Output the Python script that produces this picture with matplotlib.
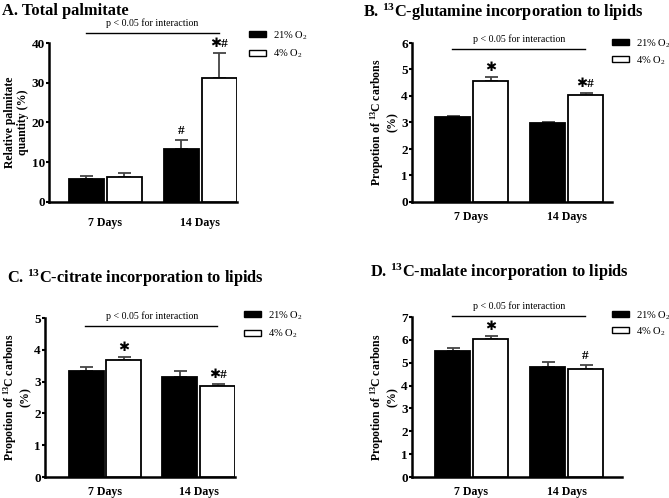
import matplotlib
matplotlib.use('Agg')
from matplotlib import pyplot as plt
from matplotlib.patches import Patch

plt.rcParams['font.family'] = ['Liberation Serif', 'DejaVu Sans']
plt.rcParams['mathtext.fontset'] = 'custom'
plt.rcParams['mathtext.rm'] = 'Liberation Serif'
plt.rcParams['mathtext.bf'] = 'Liberation Serif:bold'

# data
days = ['7 Days', '14 Days']

a_21 = [5.8, 13.3]
a_21_err = [0.7, 2.2]
a_4 = [6.3, 31.3]
a_4_err = [1.1, 6.1]
a_marks_21 = ['', '#']
a_marks_4 = ['', '\u2731#']

b_21 = [3.2, 2.98]
b_21_err = [0.03, 0.02]
b_4 = [4.55, 4.02]
b_4_err = [0.17, 0.08]
b_marks_21 = ['', '']
b_marks_4 = ['\u2731', '\u2731#']

c_21 = [3.33, 3.13]
c_21_err = [0.12, 0.2]
c_4 = [3.68, 2.85]
c_4_err = [0.09, 0.09]
c_marks_21 = ['', '']
c_marks_4 = ['\u2731', '\u2731#']

d_21 = [5.5, 4.8]
d_21_err = [0.13, 0.22]
d_4 = [6.02, 4.73]
d_4_err = [0.13, 0.19]
d_marks_21 = ['', '']
d_marks_4 = ['\u2731', '#']

W, H = 669.0, 498.0
PT = 72.0 / 100.0  # points per pixel

fig = plt.figure(figsize=(6.69, 4.98), dpi=100)


def panel(box, title, title_xy, ylabel, s21, e21, s4, e4, m21, m4,
          ymax, line_y, xpad):
    left, right, top, bottom, c0, step = box
    ax = fig.add_axes([left / W, 1 - bottom / H, (right - left) / W, (bottom - top) / H])
    w = 35.0 / step
    off = 19.0 / step
    x = [0, 1]
    x21 = [i - off for i in x]
    x4 = [i + off for i in x]
    ax.bar(x21, s21, w, color='black', edgecolor='black', linewidth=1.3, zorder=3)
    ax.bar(x4, s4, w, color='white', edgecolor='black', linewidth=1.3, zorder=3)
    for xs, s, e in [(x21, s21, e21), (x4, s4, e4)]:
        ax.errorbar(xs, s, yerr=[[0, 0], e], fmt='none', ecolor='#444444',
                    elinewidth=1.3, capsize=6.5 * PT, capthick=1.3, zorder=2)
    for xs, s, e, m in [(x21, s21, e21, m21), (x4, s4, e4, m4)]:
        for xi, si, ei, mi in zip(xs, s, e, m):
            if mi:
                ax.annotate(mi, xy=(xi, si + ei), xytext=(0, 9 * PT),
                            textcoords='offset points', ha='center', va='center',
                            fontsize=9.5, fontweight='bold', annotation_clip=False,
                            family=['Liberation Serif', 'DejaVu Sans'])
    ax.set_xlim((left - c0) / step, (right - c0) / step)
    ax.set_ylim(0, ymax)
    ax.set_yticks(range(0, ymax + 1, 10 if ymax > 10 else 1))
    ax.set_xticks(x)
    ax.set_xticklabels(days, fontsize=8.6, fontweight='bold')
    ax.tick_params(axis='x', length=0, pad=xpad)
    ax.tick_params(axis='y', length=2.5, width=1.5, labelsize=9.5, pad=0.5)
    for lab in ax.get_yticklabels():
        lab.set_fontweight('bold')
    for sp in ['top', 'right']:
        ax.spines[sp].set_visible(False)
    for sp in ['left', 'bottom']:
        ax.spines[sp].set_linewidth(1.8)
    ax.set_ylabel(ylabel, fontsize=8.5, fontweight='bold', linespacing=1.1, labelpad=2)
    ax.plot([-19.5 / step, 1.195], [line_y, line_y], color='black', lw=1.0, clip_on=False)
    ax.annotate('p < 0.05 for interaction', xy=(0.5, line_y), xytext=(0, 10 * PT),
                textcoords='offset points', ha='center', va='center', fontsize=7.1,
                annotation_clip=False)
    fig.text(title_xy[0] / W, 1 - title_xy[1] / H, title, ha='left', va='center',
             fontsize=11.8, fontweight='bold')
    handles = [Patch(facecolor='black', edgecolor='black', linewidth=1.0, label='21% O$_2$'),
               Patch(facecolor='white', edgecolor='black', linewidth=1.0, label='4% O$_2$')]
    return ax, handles


def add_legend(ax, hx, hy, handles, spacing=0.55):
    # hx, hy: pixel location of upper-left corner of legend
    ax.legend(handles=handles, loc='upper left',
              bbox_to_anchor=(hx / W, 1 - hy / H), bbox_transform=fig.transFigure,
              frameon=False, borderpad=0, borderaxespad=0,
              fontsize=7.6, handlelength=1.6, handleheight=0.5, labelspacing=spacing,
              handletextpad=0.7)


axA, h = panel((49, 237, 43, 202, 105, 95), 'A. Total palmitate', (2, 11),
               'Relative palmitate\nquantity (%)',
               a_21, a_21_err, a_4, a_4_err, a_marks_21, a_marks_4, 40, 42.5, 10.5)
add_legend(axA, 249, 29, h)

axB, h = panel((412, 612, 43, 202, 471.5, 95),
               r'B. $\mathbf{^{13}}$C-glutamine incorporation to lipids', (363, 12),
               r'Propotion of $\mathbf{^{13}}$C carbons' + '\n(%)',
               b_21, b_21_err, b_4, b_4_err, b_marks_21, b_marks_4, 6, 5.77, 6.8)
add_legend(axB, 612, 37, h, 0.4)

axC, h = panel((45, 235, 318, 477, 105, 94),
               r'C. $\mathbf{^{13}}$C-citrate incorporation to lipids', (7, 278),
               r'Propotion of $\mathbf{^{13}}$C carbons' + '\n(%)',
               c_21, c_21_err, c_4, c_4_err, c_marks_21, c_marks_4, 5, 4.75, 6.8)
add_legend(axC, 244, 309, h)

axD, h = panel((412, 622, 317, 477, 471.5, 95),
               r'D. $\mathbf{^{13}}$C-malate incorporation to lipids', (370, 272),
               r'Propotion of $\mathbf{^{13}}$C carbons' + '\n(%)',
               d_21, d_21_err, d_4, d_4_err, d_marks_21, d_marks_4, 7, 7.04, 6.8)
add_legend(axD, 612, 309, h, 0.3)

fig.savefig('out.png', dpi=100)
